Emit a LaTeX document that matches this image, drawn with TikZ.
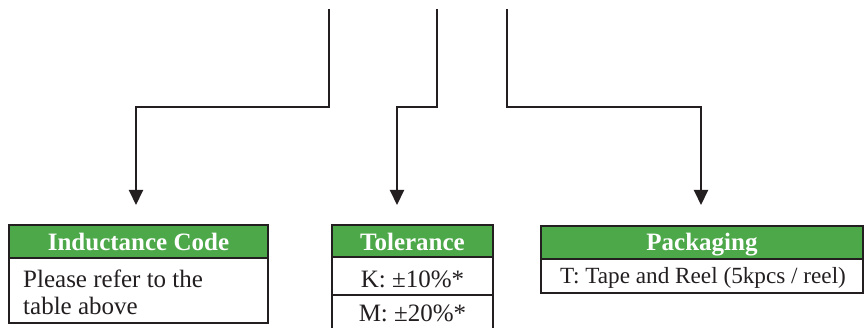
\documentclass[tikz,border=0pt]{standalone}
\usepackage{fontspec}
\setmainfont{Liberation Serif}
\usetikzlibrary{arrows.meta}
\definecolor{hdrgreen}{RGB}{77,168,74}
\definecolor{ink}{RGB}{35,31,32}
\begin{document}
\begin{tikzpicture}[x=1pt,y=-1pt,
  conn/.style={draw=ink, line width=2pt},
  arr/.style={conn, -{Triangle[width=14pt,length=15pt]}},
  cell/.style={draw=ink, line width=2.5pt, anchor=north west, inner sep=0pt, outer sep=0pt},
  hdr/.style={cell, fill=hdrgreen},
  htext/.style={font=\fontsize{25}{28}\selectfont\bfseries, text=white, anchor=base, inner sep=0pt},
  btext/.style={font=\fontsize{25}{28}\selectfont, text=ink, anchor=base, inner sep=0pt},
]
\clip (0,0) rectangle (864,328);

% Box 1: Inductance Code
\node[cell, minimum width=259pt, minimum height=98pt] (b1) at (9,225) {};
\node[hdr, minimum width=259pt, minimum height=33pt] (h1) at (9,225) {};
\node[htext] (t1h) at (138.5,251) {Inductance Code};
\node[btext, anchor=base west] (t1a) at (23,288) {Please refer to the};
\node[btext, anchor=base west] (t1b) at (23,315) {table above};

% Box 2: Tolerance
\node[cell, minimum width=161pt, minimum height=38pt] (k2) at (332,257) {};
\node[cell, minimum width=161pt, minimum height=60pt] (m2) at (332,295) {};
\node[hdr, minimum width=161pt, minimum height=32pt] (h2) at (332,225) {};
\node[htext] (t2h) at (412.5,251) {Tolerance};
\node[btext] (t2k) at (412.5,288) {K: ±10\%*};
\node[btext] (t2m) at (412.5,322) {M: ±20\%*};

% Box 3: Packaging
\node[cell, minimum width=322pt, minimum height=67pt] (b3) at (541,226) {};
\node[hdr, minimum width=322pt, minimum height=33pt] (h3) at (541,226) {};
\node[htext] (t3h) at (702,251) {Packaging};
\node[btext, font=\fontsize{23.2}{26}\selectfont] (t3b) at (703,284) {T: Tape and Reel (5kpcs / reel)};

% Connectors
\coordinate (s1) at (329,9);
\coordinate (s2) at (437,9);
\coordinate (s3) at (507,9);
\coordinate (e1) at (136,205);
\coordinate (e2) at (397,205);
\coordinate (e3) at (701,205);
\draw[arr] (s1) -- ++(0,98) -| (e1);
\draw[arr] (s2) -- ++(0,98) -| (e2);
\draw[arr] (s3) -- ++(0,98) -| (e3);
\end{tikzpicture}
\end{document}
